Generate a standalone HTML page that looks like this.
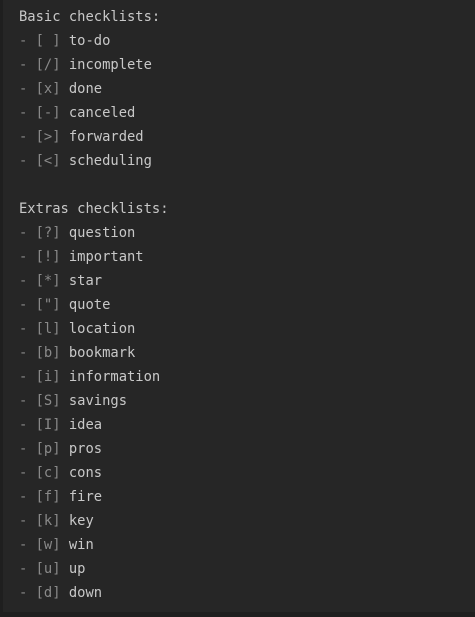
<!DOCTYPE html>
<html><head><style>
html,body{margin:0;padding:0;background:#1f1f1f;width:475px;height:617px;overflow:hidden}
.p{position:absolute;left:3px;top:0;width:472px;height:612px;background:#262626}
pre{position:absolute;left:19px;top:5px;margin:0;font-family:"DejaVu Sans Mono","Liberation Mono",monospace;font-size:13.8px;line-height:24px;color:#c8c8c8}
.g{color:#8a8a8a}
</style></head><body><div class="p"></div>
<pre>Basic checklists:
<span class="g">- [ ]</span> to-do
<span class="g">- [/]</span> incomplete
<span class="g">- [x]</span> done
<span class="g">- [-]</span> canceled
<span class="g">- [&gt;]</span> forwarded
<span class="g">- [&lt;]</span> scheduling

Extras checklists:
<span class="g">- [?]</span> question
<span class="g">- [!]</span> important
<span class="g">- [*]</span> star
<span class="g">- ["]</span> quote
<span class="g">- [l]</span> location
<span class="g">- [b]</span> bookmark
<span class="g">- [i]</span> information
<span class="g">- [S]</span> savings
<span class="g">- [I]</span> idea
<span class="g">- [p]</span> pros
<span class="g">- [c]</span> cons
<span class="g">- [f]</span> fire
<span class="g">- [k]</span> key
<span class="g">- [w]</span> win
<span class="g">- [u]</span> up
<span class="g">- [d]</span> down</pre>
</body></html>
